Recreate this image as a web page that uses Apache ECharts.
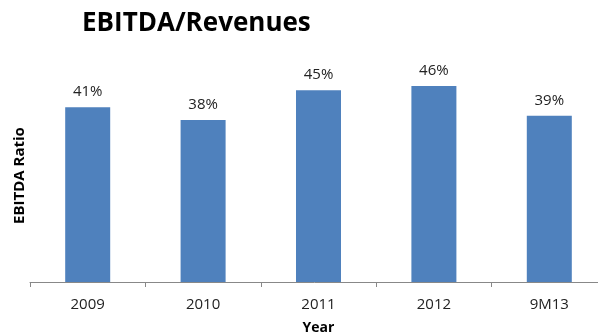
<!DOCTYPE html>
<html>
<head>
<meta charset="utf-8">
<script src="https://cdn.jsdelivr.net/npm/echarts@6/dist/echarts.min.js"></script>
<style>
  html, body { margin: 0; padding: 0; background: #fff; }
  #chart { width: 598px; height: 334px; }
</style>
</head>
<body>
<div id="chart"></div>
<script>
// EBITDA margin by year
const years = ['2009', '2010', '2011', '2012', '9M13'];
const ebitdaRatio = [41, 38, 45, 46, 39];

const chart = echarts.init(document.getElementById('chart'), null, { renderer: 'canvas' });
const font = '"Open Sans", "Liberation Sans", sans-serif';

chart.setOption({
  animation: false,
  title: {
    text: 'EBITDA/Revenues',
    left: 77,
    top: 6,
    textStyle: { fontFamily: font, fontSize: 26, fontWeight: 'bold', color: '#000' }
  },
  grid: { left: 30, right: -9, top: 69, bottom: 52, containLabel: false, outerBoundsMode: 'none' },
  xAxis: {
    type: 'category',
    data: years,
    name: 'Year',
    nameLocation: 'middle',
    nameGap: 39,
    nameTextStyle: { fontFamily: font, fontSize: 14, fontWeight: 'bold', color: '#000' },
    axisLine: { lineStyle: { color: '#888', width: 1 } },
    axisTick: { show: true, alignWithLabel: false, inside: false, length: 5, lineStyle: { color: '#888' } },
    axisLabel: { fontFamily: font, fontSize: 15, color: '#222', margin: 15 }
  },
  yAxis: {
    type: 'value',
    min: 0,
    max: 50,
    name: 'EBITDA Ratio',
    nameLocation: 'middle',
    nameRotate: 90,
    nameGap: 3,
    nameTextStyle: { fontFamily: font, fontSize: 15, fontWeight: 'bold', color: '#000' },
    axisLine: { show: false },
    axisTick: { show: false },
    axisLabel: { show: false },
    splitLine: { show: false }
  },
  series: [{
    type: 'bar',
    data: ebitdaRatio,
    barWidth: '39%',
    itemStyle: { color: '#4f81bd' },
    label: {
      show: true,
      position: 'top',
      distance: 8,
      formatter: p => p.value + '%',
      fontFamily: font,
      fontSize: 15,
      color: '#222'
    }
  }]
});
</script>
</body>
</html>
